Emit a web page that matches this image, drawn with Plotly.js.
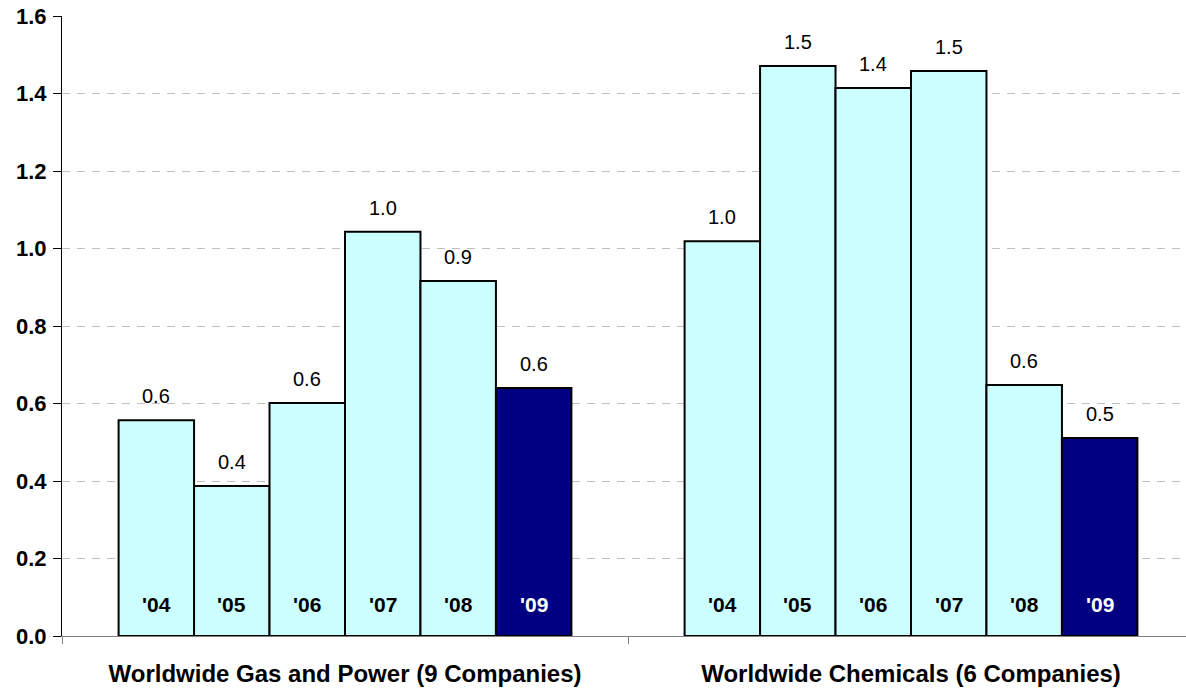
<!DOCTYPE html>
<html>
<head>
<meta charset="utf-8">
<script src="https://cdn.plot.ly/plotly-3.0.1.min.js"></script>
<style>html,body{margin:0;padding:0;background:#fff}#chart{width:1186px;height:688px}</style>
</head>
<body>
<div id="chart"></div>
<script>
const groups = ["Worldwide Gas and Power (9 Companies)", "Worldwide Chemicals (6 Companies)"];
const years = ["'04", "'05", "'06", "'07", "'08", "'09"];
const gasPower = [0.557, 0.387, 0.601, 1.043, 0.916, 0.640];
const chemicals = [1.019, 1.471, 1.414, 1.458, 0.648, 0.511];
const yTicks = [0, 0.2, 0.4, 0.6, 0.8, 1.0, 1.2, 1.4, 1.6];

const series = [gasPower, chemicals];
const groupWidth = 0.8;
const bw = groupWidth / years.length;
const FONT = "Liberation Sans, Arial, sans-serif";

const xs = [], ys = [], colors = [];
const annotations = [];
series.forEach((vals, gi) => {
  vals.forEach((v, yi) => {
    const x = gi + (yi - (years.length - 1) / 2) * bw;
    const last = yi === years.length - 1;
    xs.push(x); ys.push(v); colors.push(last ? '#000080' : '#CCFFFF');
    annotations.push({x: x, y: v, xref: 'x', yref: 'y', text: v.toFixed(1), showarrow: false,
      yanchor: 'middle', yshift: 24, font: {family: FONT, size: 20, color: '#000'}});
    annotations.push({x: x, y: 0, xref: 'x', yref: 'y', text: '<b>' + years[yi] + '</b>', showarrow: false,
      yanchor: 'middle', yshift: 32, font: {family: FONT, size: 21, color: last ? '#fff' : '#000'}});
  });
});

const data = [{
  type: 'bar', x: xs, y: ys, width: bw,
  marker: {color: colors, line: {color: '#000', width: 2}},
  hoverinfo: 'skip'
}];

const layout = {
  width: 1186, height: 688,
  margin: {l: 62, r: 0, t: 16, b: 52},
  paper_bgcolor: '#fff', plot_bgcolor: '#fff',
  showlegend: false,
  font: {family: FONT, color: '#000'},
  xaxis: {
    range: [-0.5, -0.5 + 1124 / 566],
    tickvals: [0, 1], ticktext: groups.map(g => '<b>' + g + '</b>'),
    ticks: '', tickfont: {family: FONT, size: 24, color: '#000'},
    ticklabelstandoff: 16,
    showline: true, linecolor: '#808080', linewidth: 1,
    showgrid: false, zeroline: false,
    minor: {tickvals: [-0.5, 0.5, 1.5], ticks: 'outside', ticklen: 7, tickcolor: '#808080', tickwidth: 1, showgrid: false}
  },
  yaxis: {
    range: [0, 1.6], tickvals: yTicks, ticktext: yTicks.map(t => '<b>' + t.toFixed(1) + '</b>'),
    ticks: 'outside', ticklen: 8, tickcolor: '#000', tickwidth: 1,
    tickfont: {family: FONT, size: 22, color: '#000'},
    ticklabelstandoff: 2,
    showline: true, linecolor: '#000', linewidth: 1,
    showgrid: true, gridcolor: '#C0C0C0', gridwidth: 1, griddash: '8px,7px',
    zeroline: false
  },
  annotations: annotations
};

Plotly.newPlot('chart', data, layout, {staticPlot: true, displayModeBar: false});
</script>
</body>
</html>
